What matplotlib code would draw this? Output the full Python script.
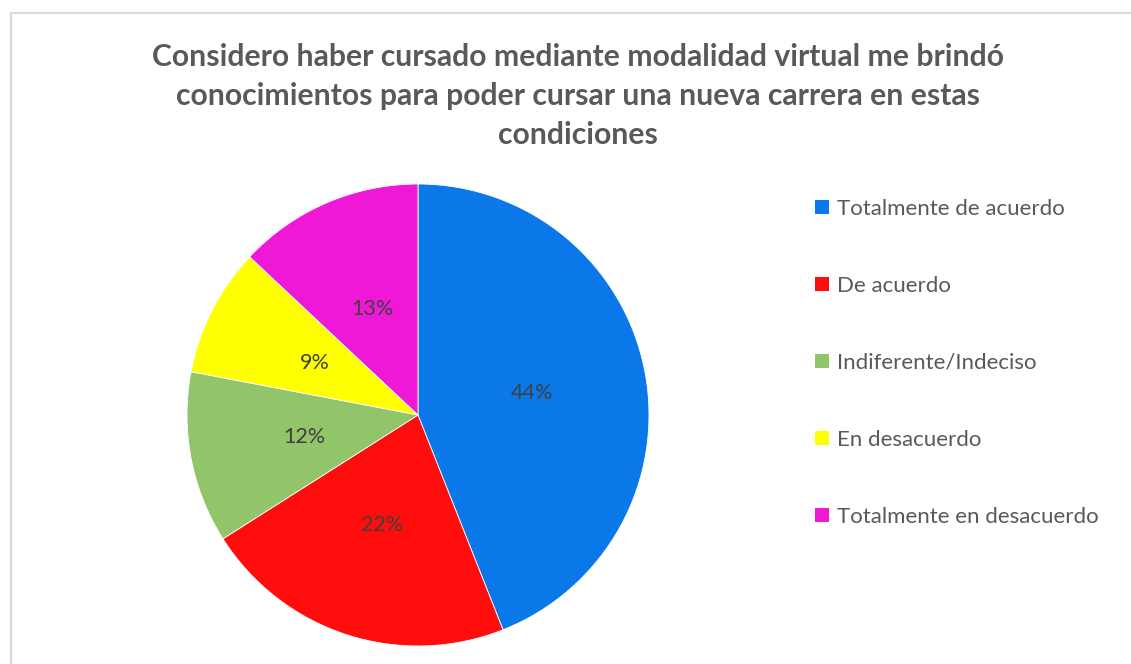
import matplotlib
matplotlib.use("Agg")
import matplotlib.pyplot as plt
from matplotlib.patches import Rectangle, Patch

categories = ["Totalmente de acuerdo", "De acuerdo", "Indiferente/Indeciso",
              "En desacuerdo", "Totalmente en desacuerdo"]
values = [44, 22, 12, 9, 13]
colors = ["#0A78E8", "#FF0D0D", "#92C46A", "#FFFF00", "#EE18D6"]
title = ("Considero haber cursado mediante modalidad virtual me brindó\n"
         "conocimientos para poder cursar una nueva carrera en estas\n"
         "condiciones")

plt.rcParams['font.family'] = ['Lato', 'DejaVu Sans']

W, H = 1131, 664
fig = plt.figure(figsize=(W / 100, H / 100), dpi=100)
fig.patch.set_facecolor("white")

# outer frame
fig.patches.append(Rectangle((11 / W, -0.1), 1.2, 1 - 13 / H + 0.1,
                             transform=fig.transFigure, fill=False,
                             edgecolor="#D9D9D9", linewidth=1.5))

cx, cy, r = 418, 415, 231
ax = fig.add_axes([(cx - r) / W, (H - cy - r) / H, 2 * r / W, 2 * r / H])
wedges, texts, autotexts = ax.pie(
    values, colors=colors, startangle=90, counterclock=False,
    autopct=lambda p: f"{p:.0f}%", pctdistance=0.5,
    wedgeprops=dict(linewidth=0.6, edgecolor="white"),
    textprops=dict(color="#404040", fontsize=15.5))
ax.set_xlim(-1, 1)
ax.set_ylim(-1, 1)
ax.set_axis_off()

fig.text(577.5 / W, 1 - 96 / H, title, ha="center", va="center",
         fontsize=21.7, fontweight="bold", color="#595959", linespacing=1.49)

handles = [Patch(facecolor=c, edgecolor="none") for c in colors]
leg = fig.legend(handles, categories, loc="upper left",
                 bbox_to_anchor=(815 / W, 1 - 199 / H), frameon=False,
                 fontsize=16, labelcolor="#595959", handlelength=0.63,
                 handleheight=0.63, handletextpad=0.38, labelspacing=2.565,
                 borderaxespad=0, borderpad=0)

fig.savefig("out.png", dpi=100, facecolor="white")
